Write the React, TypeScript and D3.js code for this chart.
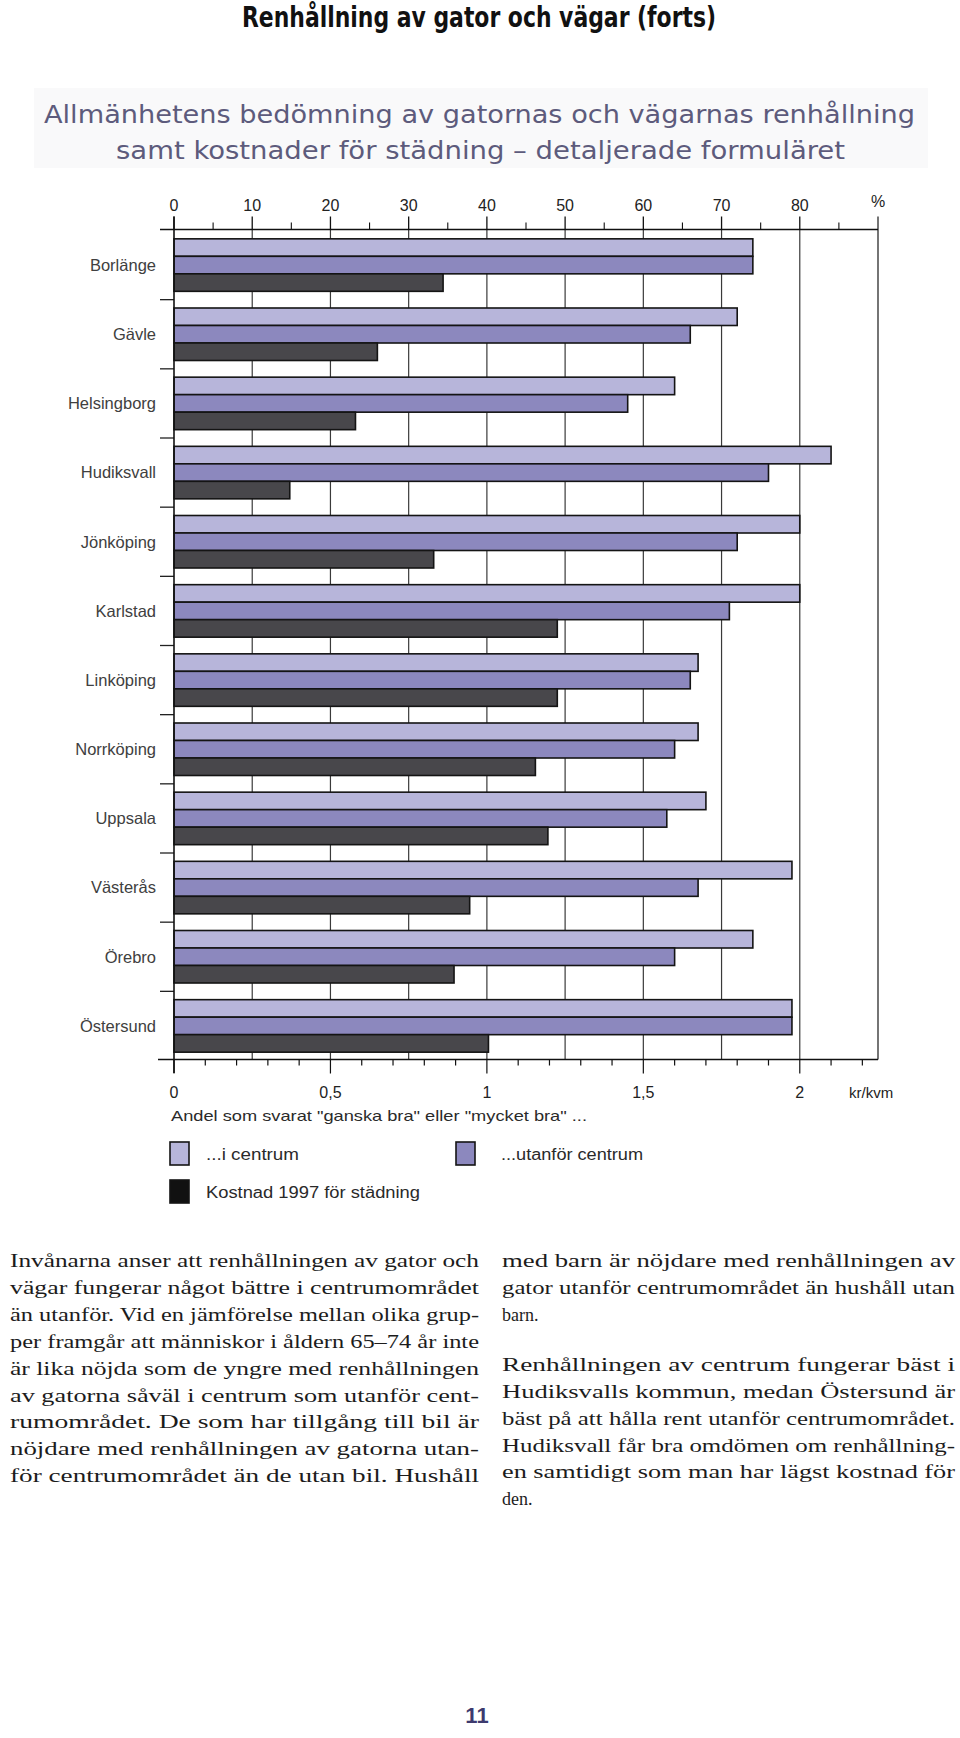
import React from "react";
import * as d3 from "d3";

const cities = ["Borlänge","Gävle","Helsingborg","Hudiksvall","Jönköping","Karlstad","Linköping","Norrköping","Uppsala","Västerås","Örebro","Östersund"];
const iCentrum = [74,72,64,84,80,80,67,67,68,79,74,79];
const utanfor = [74,66,58,76,72,71,66,64,63,67,64,79];
const kostnad = [0.86,0.65,0.58,0.37,0.83,1.225,1.225,1.155,1.195,0.945,0.895,1.005];
const pctTicks = [0,10,20,30,40,50,60,70,80];
const krLabels = [{v:0,t:"0"},{v:0.5,t:"0,5"},{v:1,t:"1"},{v:1.5,t:"1,5"},{v:2,t:"2"}];

const leftLines = [
  "Invånarna anser att renhållningen av gator och",
  "vägar fungerar något bättre i centrumområdet",
  "än utanför. Vid en jämförelse mellan olika grup-",
  "per framgår att människor i åldern 65–74 år inte",
  "är lika nöjda som de yngre med renhållningen",
  "av gatorna såväl i centrum som utanför cent-",
  "rumområdet. De som har tillgång till bil är",
  "nöjdare med renhållningen av gatorna utan-",
  "för centrumområdet än de utan bil. Hushåll",
];
const rightPara1 = [
  "med barn är nöjdare med renhållningen av",
  "gator utanför centrumområdet än hushåll utan",
  "barn.",
];
const rightPara2 = [
  "Renhållningen av centrum fungerar bäst i",
  "Hudiksvalls kommun, medan Östersund är",
  "bäst på att hålla rent utanför centrumområdet.",
  "Hudiksvall får bra omdömen om renhållning-",
  "en samtidigt som man har lägst kostnad för",
  "den.",
];

const LIGHT = "#b7b5da";
const MED = "#8c88be";
const DARK = "#48474b";
const STROKE = "#141414";
const SANS = "'Liberation Sans', Arial, sans-serif";
const NARROW = "'Liberation Sans Narrow', 'DejaVu Sans Condensed', 'Liberation Sans', sans-serif";
const SERIF = "'Liberation Serif', 'DejaVu Serif', serif";

export default function App() {
  const x = d3.scaleLinear().domain([0, 90]).range([174, 878]);
  const xk = d3.scaleLinear().domain([0, 2.25]).range([174, 878]);
  const yTop = 229.5, yBot = 1059.5;
  const y = d3.scaleBand<string>().domain(cities).range([230.5, 1060.5]).paddingInner(0.241).paddingOuter(0.1205);
  const sub = d3.scaleBand<string>().domain(["a","b","c"]).range([0, y.bandwidth()]);
  const step = y.step();
  const minorPct = d3.range(5, 90, 10);
  const krTicks = d3.range(0, 23).map(i => i / 10);

  const lx = 10, lw = 469;
  const rx = 502, rw = 453;
  const lh = 26.9;
  const base0 = 1267;

  const justified = (s: string, xx: number, w: number, yy: number, key: string, last: boolean) => (
    <text key={key} x={xx} y={yy} fontFamily={SERIF} fontSize={18} fill="#1c1c1c"
      {...(last ? {} : { textLength: w, lengthAdjust: "spacingAndGlyphs" })}>{s}</text>
  );

  return (
    <svg width={960} height={1738} style={{ position: "absolute", left: 0, top: 0, background: "#fff" }}>
      <rect x={0} y={0} width={960} height={1738} fill="#fff" />
      <text x={479} y={27} textAnchor="middle" fontFamily={NARROW} fontWeight="bold" fontSize={28} fill="#111" textLength={474} lengthAdjust="spacingAndGlyphs">Renhållning av gator och vägar (forts)</text>
      <rect x={34} y={88} width={894} height={80} fill="#f9f9fa" />
      <text x={479.5} y={123} textAnchor="middle" fontFamily={NARROW} fontSize={24} fill="#5d5b7c" textLength={871} lengthAdjust="spacingAndGlyphs">Allmänhetens bedömning av gatornas och vägarnas renhållning</text>
      <text x={480.5} y={159} textAnchor="middle" fontFamily={NARROW} fontSize={24} fill="#5d5b7c" textLength={729} lengthAdjust="spacingAndGlyphs">samt kostnader för städning – detaljerade formuläret</text>

      {/* gridlines */}
      {pctTicks.slice(1).map(t => (
        <line key={"g"+t} x1={x(t)} x2={x(t)} y1={yTop} y2={yBot} stroke="#3a3a3a" strokeWidth={1.2} />
      ))}
      <line x1={x(90)} x2={x(90)} y1={216.5} y2={yBot} stroke="#3a3a3a" strokeWidth={1.4} />

      {/* bars */}
      {cities.map((c, i) => {
        const y0 = y(c) as number;
        return (
          <g key={c}>
            <rect x={x(0)} y={y0 + (sub("a") as number)} width={x(iCentrum[i]) - x(0)} height={sub.bandwidth()} fill={LIGHT} stroke={STROKE} strokeWidth={1.6} />
            <rect x={x(0)} y={y0 + (sub("b") as number)} width={x(utanfor[i]) - x(0)} height={sub.bandwidth()} fill={MED} stroke={STROKE} strokeWidth={1.6} />
            <rect x={xk(0)} y={y0 + (sub("c") as number)} width={xk(kostnad[i]) - xk(0)} height={sub.bandwidth()} fill={DARK} stroke={STROKE} strokeWidth={1.6} />
            <text x={156} y={y0 + y.bandwidth() / 2} dy="0.35em" textAnchor="end" fontFamily={SANS} fontSize={16.5} fill="#404040">{c}</text>
            {i > 0 && <line x1={160} x2={174} y1={y0 - step * 0.1205} y2={y0 - step * 0.1205} stroke="#222" strokeWidth={1.3} />}
          </g>
        );
      })}

      {/* zero line */}
      <line x1={x(0)} x2={x(0)} y1={216.5} y2={1073} stroke="#111" strokeWidth={1.6} />

      {/* top axis */}
      <line x1={160} x2={x(90)} y1={yTop} y2={yTop} stroke="#111" strokeWidth={1.6} />
      {pctTicks.map(t => (
        <g key={"t"+t}>
          <line x1={x(t)} x2={x(t)} y1={216.5} y2={yTop} stroke="#111" strokeWidth={1.3} />
          <text x={x(t)} y={211} textAnchor="middle" fontFamily={SANS} fontSize={16} fill="#222">{t}</text>
        </g>
      ))}
      {minorPct.map(t => (
        <line key={"m"+t} x1={x(t)} x2={x(t)} y1={222.5} y2={yTop} stroke="#111" strokeWidth={1.1} />
      ))}
      <text x={x(90)} y={207} textAnchor="middle" fontFamily={SANS} fontSize={16} fill="#222">%</text>

      {/* bottom axis */}
      <line x1={158} x2={x(90)} y1={yBot} y2={yBot} stroke="#111" strokeWidth={1.6} />
      {krTicks.map(t => {
        const major = Math.abs(t * 2 - Math.round(t * 2)) < 1e-6;
        return <line key={"k"+t} x1={xk(t)} x2={xk(t)} y1={yBot} y2={yBot + (major ? 14 : 6)} stroke="#111" strokeWidth={1.2} />;
      })}
      {krLabels.map(l => (
        <text key={"kl"+l.t} x={xk(l.v)} y={1098} textAnchor="middle" fontFamily={SANS} fontSize={16} fill="#222">{l.t}</text>
      ))}
      <text x={849} y={1098} fontFamily={SANS} fontSize={15} fill="#222">kr/kvm</text>

      {/* legend */}
      <text x={171} y={1121} fontFamily={SANS} fontSize={15} fill="#2a2a2a" textLength={416} lengthAdjust="spacingAndGlyphs">Andel som svarat "ganska bra" eller "mycket bra" ...</text>
      <rect x={170} y={1142} width={19} height={23} fill={LIGHT} stroke={STROKE} strokeWidth={1.6} />
      <text x={206} y={1160} fontFamily={SANS} fontSize={16} fill="#2a2a2a" textLength={93} lengthAdjust="spacingAndGlyphs">...i centrum</text>
      <rect x={456} y={1142} width={19} height={23} fill={MED} stroke={STROKE} strokeWidth={1.6} />
      <text x={501} y={1160} fontFamily={SANS} fontSize={16} fill="#2a2a2a" textLength={142} lengthAdjust="spacingAndGlyphs">...utanför centrum</text>
      <rect x={170} y={1180} width={19} height={23} fill="#111" stroke={STROKE} strokeWidth={1.6} />
      <text x={206} y={1198} fontFamily={SANS} fontSize={16} fill="#2a2a2a" textLength={214} lengthAdjust="spacingAndGlyphs">Kostnad 1997 för städning</text>

      {/* body text */}
      {leftLines.map((s, i) => justified(s, lx, lw, base0 + i * lh, "l" + i, false))}
      {rightPara1.map((s, i) => justified(s, rx, rw, base0 + i * lh, "r1" + i, i === rightPara1.length - 1))}
      {rightPara2.map((s, i) => justified(s, rx, rw, base0 + 2 * lh + 50 + i * lh, "r2" + i, i === rightPara2.length - 1))}

      <text x={477} y={1723} textAnchor="middle" fontWeight="bold" fontFamily={SANS} fontSize={22} fill="#3d3a6e">11</text>
    </svg>
  );
}
